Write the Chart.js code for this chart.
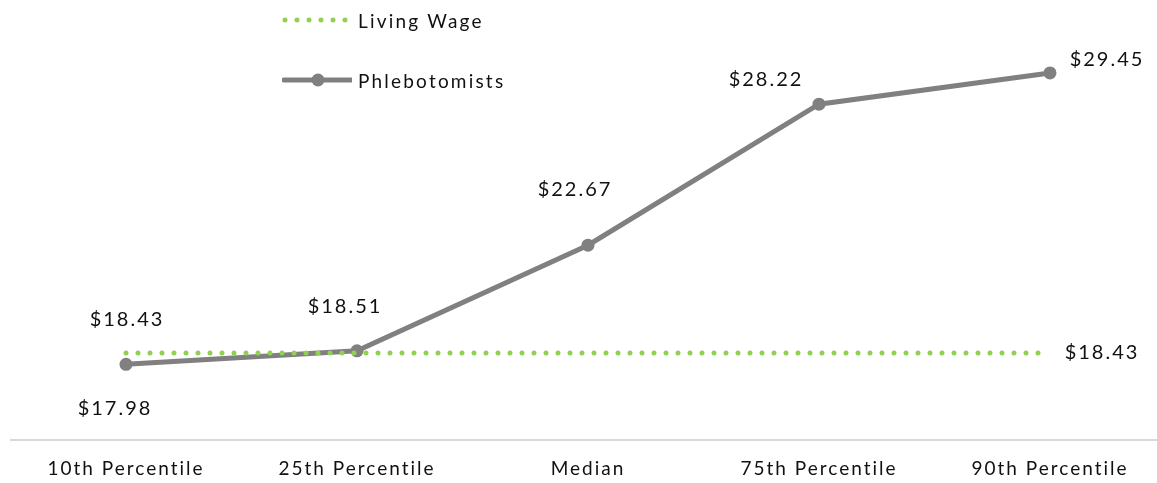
<!DOCTYPE html>
<html>
<head>
<meta charset="utf-8">
<script src="https://cdn.jsdelivr.net/npm/chart.js@4/dist/chart.umd.min.js"></script>
<style>
  html, body { margin: 0; padding: 0; background: #fff; overflow: hidden; }
  #wrap { position: relative; width: 1157px; height: 483px; overflow: hidden; }
  #wrap canvas { position: absolute; left: 0; top: 0; }
  .legend { position: absolute; left: 282px; font-family: Lato, "Noto Sans", sans-serif; font-size: 19px; color: #111; display: flex; align-items: center; letter-spacing: 2.2px; }
  .legend svg { margin-right: 6px; }
</style>
</head>
<body>
<div id="wrap">
  <canvas id="chart" width="1172" height="483" style="width:1172px;height:483px"></canvas>
  <div class="legend" style="top:8px">
    <svg width="70" height="24"><line x1="3" y1="12" x2="66" y2="12" stroke="#92D050" stroke-width="5" stroke-linecap="round" stroke-dasharray="0 12"/></svg>
    <span>Living Wage</span>
  </div>
  <div class="legend" style="top:68px">
    <svg width="70" height="24"><line x1="2" y1="12" x2="70" y2="12" stroke="#808080" stroke-width="5" stroke-linecap="round"/><circle cx="36" cy="12" r="6.5" fill="#808080"/></svg>
    <span>Phlebotomists</span>
  </div>
</div>
<script>
const categories = ['10th Percentile', '25th Percentile', 'Median', '75th Percentile', '90th Percentile'];
const livingWage = [18.43, 18.43, 18.43, 18.43, 18.43];
const phlebotomists = [17.98, 18.51, 22.67, 28.22, 29.45];

// which labels are shown and where they sit relative to the point
const labelOffsets = [
    [[0, -33], null, null, null, [51, 0]],
    [[-12, 44], [-13, -44], [-14, -56], [-54, -25], [56, -13]]
];

const fontFamily = 'Lato, "Noto Sans", sans-serif';

const spacing = {
    id: 'spacing',
    beforeDraw(chart) {
        chart.ctx.letterSpacing = '2px';
    }
};

const valueLabels = {
    id: 'valueLabels',
    afterDatasetsDraw(chart) {
        const ctx = chart.ctx;
        ctx.save();
        ctx.letterSpacing = '2px';
        ctx.font = '20px ' + fontFamily;
        ctx.fillStyle = '#111';
        ctx.textAlign = 'center';
        ctx.textBaseline = 'middle';
        chart.data.datasets.forEach((ds, di) => {
            const meta = chart.getDatasetMeta(di);
            meta.data.forEach((pt, i) => {
                const off = labelOffsets[di][i];
                if (!off) return;
                ctx.fillText('$' + ds.data[i].toFixed(2), pt.x + off[0] + 1, pt.y + off[1]);
            });
        });
        ctx.restore();
    }
};

new Chart(document.getElementById('chart'), {
    type: 'line',
    data: {
        labels: categories,
        datasets: [{
            label: 'Living Wage',
            data: livingWage,
            borderColor: '#92D050',
            borderWidth: 5,
            borderDash: [0, 12],
            borderCapStyle: 'round',
            pointRadius: 0,
            fill: false
        }, {
            label: 'Phlebotomists',
            data: phlebotomists,
            borderColor: '#808080',
            backgroundColor: '#808080',
            borderWidth: 5,
            pointRadius: 6.5,
            pointBorderWidth: 0,
            fill: false
        }]
    },
    options: {
        responsive: false,
        animation: false,
        layout: { padding: { left: 10.5, right: 1.5, top: 59, bottom: 0 } },
        plugins: {
            legend: { display: false },
            tooltip: { enabled: false }
        },
        scales: {
            x: {
                offset: true,
                afterFit(scale) { scale.height = 43; },
                grid: { display: false, drawTicks: false },
                border: { display: true, color: '#d9d9d9', width: 2 },
                ticks: {
                    color: '#111',
                    padding: 17,
                    maxRotation: 0,
                    autoSkip: false,
                    font: { family: fontFamily, size: 19 }
                }
            },
            y: {
                display: false,
                min: 15,
                max: 30
            }
        }
    },
    plugins: [spacing, valueLabels]
});
</script>
</body>
</html>
